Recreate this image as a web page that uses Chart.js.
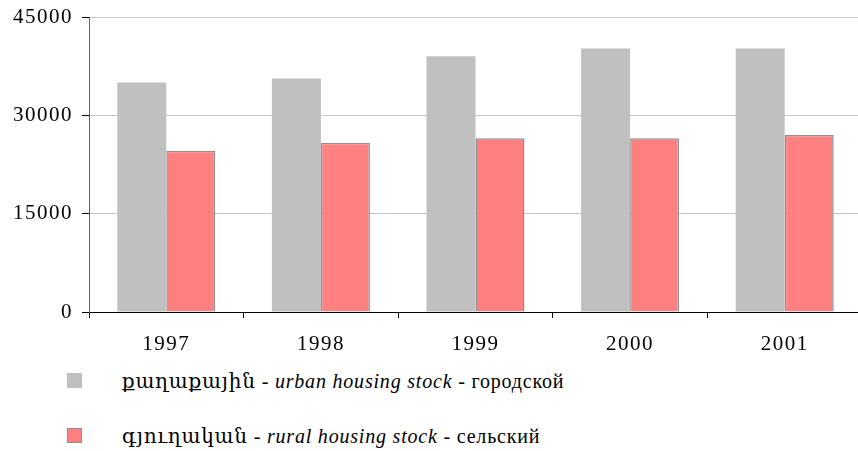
<!DOCTYPE html>
<html>
<head>
<meta charset="utf-8">
<script src="https://cdn.jsdelivr.net/npm/chart.js@4.4.1/dist/chart.umd.min.js"></script>
<style>
  html, body { margin: 0; padding: 0; background: #fff; overflow: hidden; }
  #wrap { position: relative; width: 858px; height: 451px; overflow: hidden; }
  #box { position: absolute; left: 0; top: 0; width: 862px; height: 360px; }
  .leg { position: absolute; left: 67px; font-family: "Liberation Serif", "DejaVu Serif", serif;
         font-size: 20px; color: #000; white-space: nowrap; letter-spacing: 0.8px; }
  .leg .sq { position: absolute; left: 0; width: 15px; height: 15px; box-sizing: border-box; }
  .leg .txt { position: absolute; left: 55px; top: -12px; }
</style>
</head>
<body>
<div id="wrap">
  <div id="box"><canvas id="housingChart"></canvas></div>
  <div class="leg" style="top:381px;">
    <div class="sq" style="top:-8px; background:#c0c0c0;"></div>
    <div class="txt">քաղաքային - <i>urban housing stock</i> - городской</div>
  </div>
  <div class="leg" style="top:436px;">
    <div class="sq" style="top:-8px; background:#ff8080; border:1px solid #909090;"></div>
    <div class="txt">գյուղական - <i>rural housing stock</i> - сельский</div>
  </div>
</div>
<script>
// --- données ---
const years = ['1997', '1998', '1999', '2000', '2001'];
const urban = [35000, 35600, 39000, 40200, 40200];
const rural = [24600, 25800, 26500, 26500, 27000];
const yTicks = [0, 15000, 30000, 45000];

const serif = '"Liberation Serif", "DejaVu Serif", serif';

// espacement des lettres pour les étiquettes des axes
const spacing = {
    id: 'spacing',
    beforeLayout(chart) { chart.ctx.letterSpacing = '1.5px'; },
    beforeDraw(chart) { chart.ctx.letterSpacing = '1.5px'; }
};

const ctx = document.getElementById('housingChart').getContext('2d');
const housingChart = new Chart(ctx, {
    type: 'bar',
    data: {
        labels: years,
        datasets: [{
            label: 'urban housing stock',
            data: urban,
            backgroundColor: '#c0c0c0',
            borderWidth: 0
        }, {
            label: 'rural housing stock',
            data: rural,
            backgroundColor: '#ff8080',
            borderColor: '#909090',
            borderWidth: 1.5
        }]
    },
    options: {
        responsive: true,
        maintainAspectRatio: false,
        animation: false,
        layout: { padding: { top: 17, left: 0, right: 0, bottom: 0 } },
        datasets: {
            bar: { categoryPercentage: 0.634, barPercentage: 1 }
        },
        scales: {
            x: {
                afterFit: (s) => { s.height = 48; s.paddingLeft = 0; s.paddingRight = 0; },
                grid: {
                    offset: true,
                    drawOnChartArea: false,
                    tickLength: 6,
                    tickColor: '#000'
                },
                border: { color: '#000', width: 1 },
                ticks: {
                    color: '#000',
                    padding: 14,
                    font: { family: serif, size: 21 }
                }
            },
            y: {
                min: 0,
                max: 45000,
                afterFit: (s) => { s.width = 89; s.paddingTop = 0; s.paddingBottom = 0; },
                afterBuildTicks: (s) => { s.ticks = yTicks.map(v => ({ value: v })); },
                grid: {
                    color: '#c8c8c8',
                    lineWidth: 1,
                    tickLength: 7,
                    tickColor: '#000'
                },
                border: { color: '#606060', width: 1 },
                ticks: {
                    color: '#000',
                    padding: 9,
                    font: { family: serif, size: 21 },
                    callback: (v) => String(v)
                }
            }
        },
        plugins: {
            legend: { display: false },
            tooltip: { enabled: false }
        }
    },
    plugins: [spacing]
});
</script>
</body>
</html>
